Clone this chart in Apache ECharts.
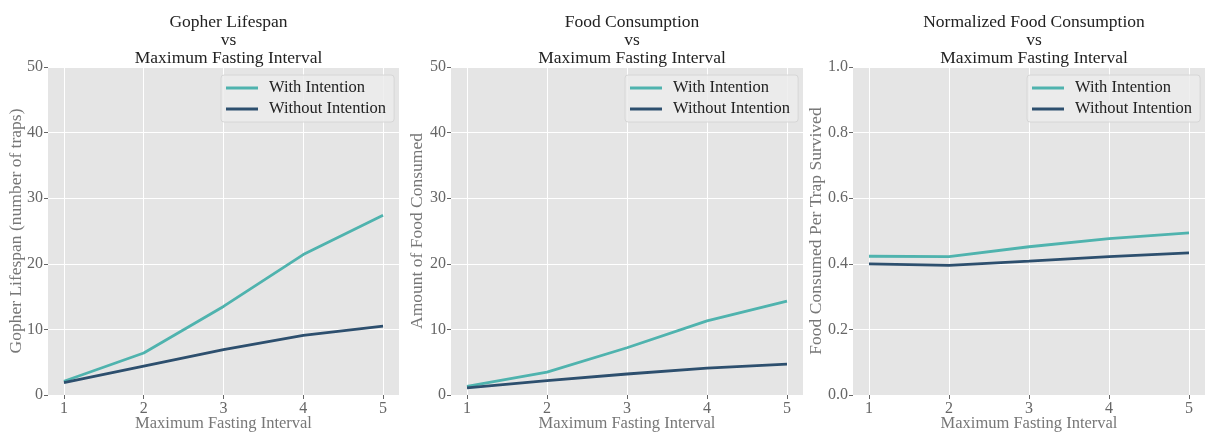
<!DOCTYPE html>
<html>
<head>
<meta charset="utf-8">
<script src="https://cdn.jsdelivr.net/npm/echarts@6/dist/echarts.min.js"></script>
<style>html,body{margin:0;padding:0;background:#fff}#c{width:1208px;height:435px}</style>
</head>
<body>
<div id="c"></div>
<script>
const xValues = [1, 2, 3, 4, 5];
const seriesNames = ['With Intention', 'Without Intention'];
const titles = ['Gopher Lifespan\nvs\nMaximum Fasting Interval', 'Food Consumption\nvs\nMaximum Fasting Interval', 'Normalized Food Consumption\nvs\nMaximum Fasting Interval'];
const yNames = ['Gopher Lifespan (number of traps)', 'Amount of Food Consumed', 'Food Consumed Per Trap Survived'];
const xName = 'Maximum Fasting Interval';
const lifespanWith = [2.1, 6.4, 13.5, 21.4, 27.4];
const lifespanWithout = [1.9, 4.4, 6.9, 9.1, 10.5];
const foodWith = [1.3, 3.5, 7.2, 11.3, 14.3];
const foodWithout = [1.1, 2.2, 3.2, 4.1, 4.7];
const normWith = [0.423, 0.422, 0.452, 0.477, 0.494];
const normWithout = [0.400, 0.395, 0.408, 0.422, 0.433];
const yMax = [50, 50, 1.0];
const yInterval = [10, 10, 0.2];

const FONT = '"Liberation Serif", "DejaVu Serif", serif';
const colors = ['#4fb3ae', '#2d4f6e'];
const grids = [
  {left: 48, top: 67, width: 351, height: 328},
  {left: 451, top: 67, width: 352, height: 328},
  {left: 853, top: 67, width: 352, height: 328}
];
const yNameGaps = [23, 25, 28];
const dataSets = [[lifespanWith, lifespanWithout], [foodWith, foodWithout], [normWith, normWithout]];

const option = {
  animation: false,
  backgroundColor: '#fff',
  title: titles.map((t, i) => ({
    text: t,
    left: grids[i].left + grids[i].width / 2,
    top: 8,
    textAlign: 'center',
    textStyle: {fontFamily: FONT, fontSize: 17.5, fontWeight: 'normal', color: '#222', lineHeight: 18}
  })),
  legend: grids.map((g, i) => ({
    data: seriesNames,
    orient: 'vertical',
    left: g.left + g.width - 178,
    top: 75,
    icon: 'rect',
    itemWidth: 32,
    itemHeight: 3,
    itemGap: 3,
    padding: [4, 8, 4, 5],
    backgroundColor: 'rgba(236,236,236,0.85)',
    borderColor: '#d6d6d6',
    borderWidth: 1,
    borderRadius: 3,
    textStyle: {fontFamily: FONT, fontSize: 16.5, color: '#222', lineHeight: 18, padding: [0, 0, 0, 6]}
  })),
  grid: grids.map(g => ({left: g.left, top: g.top, width: g.width, height: g.height, show: true, backgroundColor: '#e5e5e5', borderWidth: 0, containLabel: false, outerBoundsMode: 'none'})),
  xAxis: grids.map((g, i) => ({
    type: 'value',
    gridIndex: i,
    min: 0.8,
    max: 5.2,
    name: xName,
    nameLocation: 'middle',
    nameGap: 20,
    nameMoveOverlap: false,
    nameTextStyle: {fontFamily: FONT, fontSize: 16.5, color: '#777'},
    axisLine: {show: false},
    axisTick: {show: true, length: 4, lineStyle: {color: '#666'}, customValues: xValues},
    axisLabel: {fontFamily: FONT, fontSize: 16, color: '#666', margin: 6, customValues: xValues},
    splitLine: {show: true, lineStyle: {color: '#fff', width: 1}}
  })),
  yAxis: grids.map((g, i) => ({
    type: 'value',
    gridIndex: i,
    min: 0,
    max: yMax[i],
    interval: yInterval[i],
    name: yNames[i],
    nameLocation: 'middle',
    nameGap: yNameGaps[i],
    nameMoveOverlap: false,
    nameTextStyle: {fontFamily: FONT, fontSize: 17.5, color: '#777'},
    axisLine: {show: false},
    axisTick: {show: true, length: 4, lineStyle: {color: '#666'}},
    axisLabel: {fontFamily: FONT, fontSize: 16, color: '#666', margin: 5, formatter: v => i === 2 ? v.toFixed(1) : String(v)},
    splitLine: {show: true, lineStyle: {color: '#fff', width: 1}}
  })),
  series: []
};
dataSets.forEach((pair, gi) => {
  pair.forEach((vals, si) => {
    option.series.push({
      type: 'line',
      name: seriesNames[si],
      xAxisIndex: gi,
      yAxisIndex: gi,
      data: xValues.map((x, k) => [x, vals[k]]),
      symbol: 'none',
      color: colors[si],
      lineStyle: {width: 2.8, color: colors[si]}
    });
  });
});
const chart = echarts.init(document.getElementById('c'), null, {renderer: 'canvas'});
chart.setOption(option);
</script>
</body>
</html>
